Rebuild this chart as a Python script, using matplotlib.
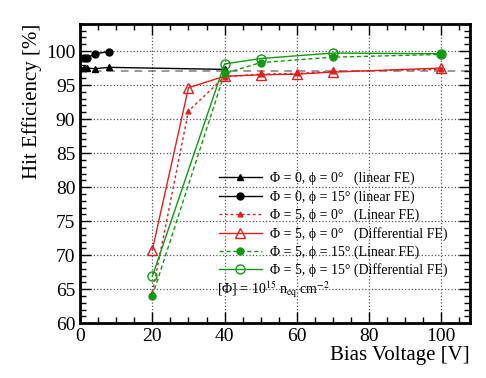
import numpy as np
import matplotlib.pyplot as plt
from matplotlib.ticker import MultipleLocator

plt.rcParams['font.family'] = ['Liberation Serif', 'DejaVu Serif']
plt.rcParams['mathtext.fontset'] = 'stix'

# data
v_unirr = [0, 1, 2, 4, 8, 40]
eff_unirr_0 = [97.5, 97.5, 97.5, 97.4, 97.6, 97.3]
v_unirr15 = [0, 1, 2, 4, 8]
eff_unirr_15 = [99.0, 99.0, 99.0, 99.6, 99.9]

v_red = [20, 30, 40, 50, 60, 70, 100]
eff_lin_0 = [64.5, 91.2, 96.2, 96.6, 96.7, 97.0, 97.3]
eff_diff_0 = [70.8, 94.6, 96.3, 96.5, 96.6, 96.9, 97.5]

v_green = [20, 40, 50, 70, 100]
eff_lin_15 = [64.0, 96.7, 98.3, 99.1, 99.5]
eff_diff_15 = [66.9, 98.1, 98.9, 99.7, 99.6]

ref_level = 97.0

labels = ["Φ = 0, ϕ = 0°   (linear FE)",
          "Φ = 0, ϕ = 15° (linear FE)",
          "Φ = 5, ϕ = 0°   (Linear FE)",
          "Φ = 5, ϕ = 0°   (Differential FE)",
          "Φ = 5, ϕ = 15° (Linear FE)",
          "Φ = 5, ϕ = 15° (Differential FE)"]

red = '#e02020'
green = '#119911'

fig = plt.figure(figsize=(4.86, 3.78), dpi=100)
ax = fig.add_axes([0.165, 0.145, 0.802, 0.792])

ax.axhline(ref_level, color='#999999', ls=(0, (4, 3)), lw=1.4, zorder=1)

ax.plot(v_unirr, eff_unirr_0, color='black', marker='^', ms=4, lw=1, label=labels[0])
ax.plot(v_unirr15, eff_unirr_15, color='black', marker='o', ms=5, lw=1, label=labels[1])
ax.plot(v_red, eff_lin_0, color=red, marker='^', ms=3.5, lw=1, ls=(0, (2, 2)), label=labels[2])
ax.plot(v_red, eff_diff_0, color=red, marker='^', ms=6.5, mfc='none', lw=1, label=labels[3])
ax.plot(v_green, eff_lin_15, color=green, marker='o', ms=5, lw=1, ls=(0, (3, 2)), label=labels[4])
ax.plot(v_green, eff_diff_15, color=green, marker='o', ms=6.5, mfc='none', lw=1, label=labels[5])

ax.set_xlim(0, 108)
ax.set_ylim(60, 104)
ax.xaxis.set_major_locator(MultipleLocator(20))
ax.xaxis.set_minor_locator(MultipleLocator(5))
ax.yaxis.set_major_locator(MultipleLocator(5))
ax.yaxis.set_minor_locator(MultipleLocator(1))
ax.tick_params(which='both', direction='in', top=True, right=True, labelsize=14)
ax.tick_params(which='major', length=8, width=1)
ax.tick_params(which='minor', length=4, width=1)
ax.grid(True, which='major', ls=':', color='#555555', lw=0.9)
for s in ax.spines.values():
    s.set_linewidth(2)

ax.set_xlabel("Bias Voltage [V]", fontsize=15, loc='right', labelpad=1)
ax.set_ylabel("Hit Efficiency [%]", fontsize=15, loc='top', labelpad=3)

leg = ax.legend(loc='upper left', bbox_to_anchor=(0.355, 0.505), frameon=False,
                fontsize=10, handlelength=3.1, handletextpad=0.6, labelspacing=0.34,
                borderaxespad=0, borderpad=0)
ax.text(0.352, 0.11, r"[Φ] = 10$^{15}$ n$_{\mathrm{eq}}$ cm$^{-2}$",
        transform=ax.transAxes, fontsize=10, ha='left', va='center')

fig.savefig("out.png", dpi=100)
